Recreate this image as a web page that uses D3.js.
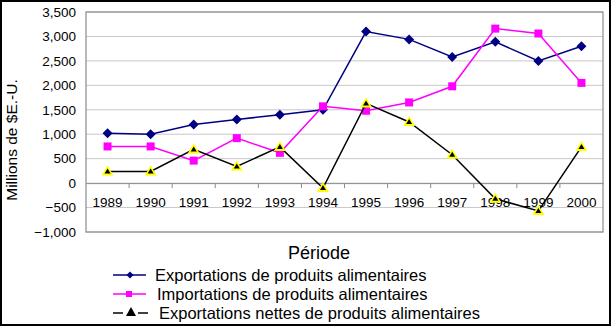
<!DOCTYPE html>
<html><head><meta charset="utf-8">
<script src="https://cdn.jsdelivr.net/npm/d3@7"></script>
<style>body{margin:0;background:#fff}svg{display:block}text{font-family:Arial,"Liberation Sans",sans-serif}</style>
</head><body><svg id="c" width="611" height="326"></svg>
<script>
const years = ["1989","1990","1991","1992","1993","1994","1995","1996","1997","1998","1999","2000"];
const exportsVals = [1020,1000,1200,1300,1400,1500,3100,2940,2580,2890,2500,2800];
const importsVals = [750,750,460,920,620,1570,1480,1650,1980,3160,3060,2050];
const netVals = [240,240,690,340,740,-100,1630,1250,580,-320,-570,740];
const yTicks = [-1000,-500,0,500,1000,1500,2000,2500,3000,3500];
const seriesNames = ["Exportations de produits alimentaires","Importations de produits alimentaires","Exportations nettes de produits alimentaires"];

const svg = d3.select("#c");
const L=86,R=603,T=12,B=232;
const x = d3.scaleBand().domain(years).range([L,R]);
const y = d3.scaleLinear().domain([-1000,3500]).range([B,T]);
const fmt = d3.format(",");

svg.append("rect").attr("x",1).attr("y",1).attr("width",609).attr("height",324).attr("fill","#fff").attr("stroke","#000").attr("stroke-width",2);

svg.append("g").selectAll("line").data(yTicks).join("line")
  .attr("x1",L).attr("x2",R).attr("y1",d=>y(d)).attr("y2",d=>y(d))
  .attr("stroke","#c8c8c8").attr("stroke-width",1);
svg.append("rect").attr("x",L).attr("y",T).attr("width",R-L).attr("height",B-T).attr("fill","none").attr("stroke","#8c8c8c").attr("stroke-width",1.2);

const ya = svg.append("g").attr("transform",`translate(${L},0)`).call(d3.axisLeft(y).tickValues(yTicks).tickFormat(fmt).tickSize(0).tickPadding(10));
ya.select(".domain").remove();
ya.selectAll("text").attr("font-size",13.5).attr("fill","#000").style("font-family","Arial,'Liberation Sans',sans-serif");

const xa = svg.append("g").attr("transform",`translate(0,${y(0)})`).call(d3.axisBottom(x).tickSize(0).tickPadding(14));
xa.select(".domain").attr("stroke","#8c8c8c");
xa.selectAll("text").attr("font-size",13.5).attr("fill","#000").style("font-family","Arial,'Liberation Sans',sans-serif");
svg.append("g").selectAll("line").data(years.slice(1)).join("line")
  .attr("x1",d=>x(d)).attr("x2",d=>x(d)).attr("y1",y(0)).attr("y2",y(0)+5).attr("stroke","#8c8c8c");

svg.append("text").attr("transform",`translate(17,140) rotate(-90)`).attr("text-anchor","middle")
  .attr("font-size",15.5).text("Millions de $E.-U.");

const cx = d=>x(d)+x.bandwidth()/2;
const line = d3.line().x((d,i)=>cx(years[i])).y(d=>y(d));

function drawSeries(vals,color,marker){
  svg.append("path").datum(vals).attr("d",line).attr("fill","none").attr("stroke",color).attr("stroke-width",1.5);
  const g = svg.append("g");
  vals.forEach((v,i)=>marker(g,cx(years[i]),y(v)));
}
const diamond=(g,X,Y,s=5)=>g.append("path").attr("d",`M${X},${Y-s}L${X+s},${Y}L${X},${Y+s}L${X-s},${Y}Z`).attr("fill","#000080");
const square=(g,X,Y,s=8)=>g.append("rect").attr("x",X-s/2).attr("y",Y-s/2).attr("width",s).attr("height",s).attr("fill","#ff00ff");
const tri=(g,X,Y)=>{
  g.append("path").attr("d",`M${X},${Y-6}L${X+6},${Y+4}L${X-6},${Y+4}Z`).attr("fill","#ffff00");
  g.append("path").attr("d",`M${X},${Y-3}L${X+3},${Y+2}L${X-3},${Y+2}Z`).attr("fill","#000");
};
drawSeries(exportsVals,"#000080",diamond);
drawSeries(importsVals,"#ff00ff",square);
drawSeries(netVals,"#000",tri);

svg.append("text").attr("x",319).attr("y",259).attr("text-anchor","middle").attr("font-size",18).text("Période");
const ly=[275,294,313];
const tx=[155,157,159];
const lg=svg.append("g");
const colors=["#000080","#ff00ff","#000"];
seriesNames.forEach((n,i)=>{
  if(i<2){
    lg.append("line").attr("x1",113).attr("x2",146).attr("y1",ly[i]).attr("y2",ly[i]).attr("stroke",colors[i]).attr("stroke-width",1.5);
  } else {
    lg.append("line").attr("x1",113).attr("x2",123).attr("y1",ly[i]).attr("y2",ly[i]).attr("stroke","#000").attr("stroke-width",1.5);
    lg.append("line").attr("x1",138).attr("x2",148).attr("y1",ly[i]).attr("y2",ly[i]).attr("stroke","#000").attr("stroke-width",1.5);
  }
  lg.append("text").attr("x",tx[i]).attr("y",ly[i]+5.5).attr("font-size",16.5).text(n);
});
diamond(lg,130,ly[0],3.5);
square(lg,129,ly[1],6);
lg.append("path").attr("d",`M131,${ly[2]-6}L136,${ly[2]+3}L126,${ly[2]+3}Z`).attr("fill","#000");
</script></body></html>
